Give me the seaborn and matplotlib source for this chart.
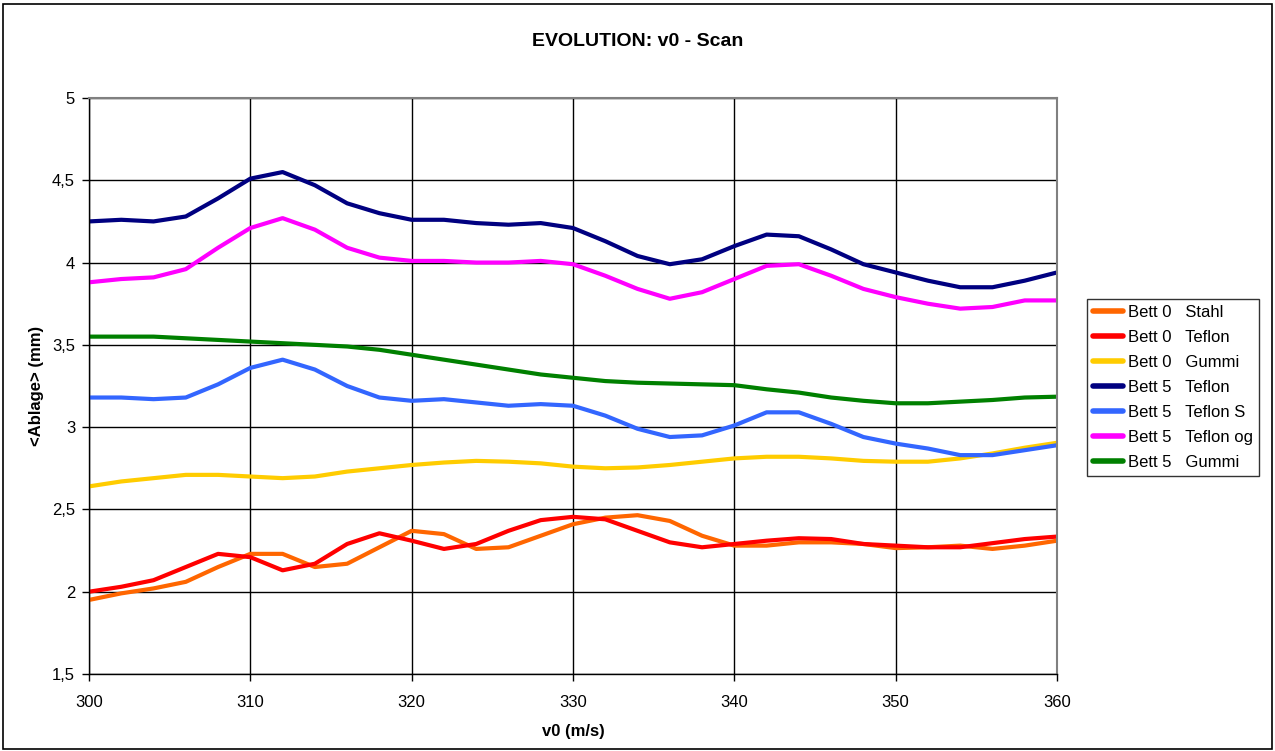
import pandas as pd
import matplotlib.pyplot as plt
import seaborn as sns
from matplotlib.patches import Rectangle

# v0 Werte (m/s)
v0 = [300, 302, 304, 306, 308, 310, 312, 314, 316, 318, 320, 322, 324, 326, 328, 330,
      332, 334, 336, 338, 340, 342, 344, 346, 348, 350, 352, 354, 356, 358, 360]

bett0_stahl = [1.95, 1.99, 2.02, 2.06, 2.15, 2.23, 2.23, 2.15, 2.17, 2.27, 2.37, 2.35, 2.26, 2.27, 2.34, 2.41,
               2.45, 2.465, 2.43, 2.34, 2.28, 2.28, 2.30, 2.30, 2.29, 2.265, 2.27, 2.28, 2.26, 2.28, 2.31]
bett0_teflon = [2.00, 2.03, 2.07, 2.15, 2.23, 2.21, 2.13, 2.17, 2.29, 2.355, 2.31, 2.26, 2.29, 2.37, 2.435, 2.455,
                2.44, 2.37, 2.30, 2.27, 2.29, 2.31, 2.325, 2.32, 2.29, 2.28, 2.27, 2.27, 2.295, 2.32, 2.335]
bett0_gummi = [2.64, 2.67, 2.69, 2.71, 2.71, 2.70, 2.69, 2.70, 2.73, 2.75, 2.77, 2.785, 2.795, 2.79, 2.78, 2.76,
               2.75, 2.755, 2.77, 2.79, 2.81, 2.82, 2.82, 2.81, 2.795, 2.79, 2.79, 2.81, 2.84, 2.875, 2.905]
bett5_teflon = [4.25, 4.26, 4.25, 4.28, 4.39, 4.51, 4.55, 4.47, 4.36, 4.30, 4.26, 4.26, 4.24, 4.23, 4.24, 4.21,
                4.13, 4.04, 3.99, 4.02, 4.10, 4.17, 4.16, 4.08, 3.99, 3.94, 3.89, 3.85, 3.85, 3.89, 3.94]
bett5_teflon_s = [3.18, 3.18, 3.17, 3.18, 3.26, 3.36, 3.41, 3.35, 3.25, 3.18, 3.16, 3.17, 3.15, 3.13, 3.14, 3.13,
                  3.07, 2.99, 2.94, 2.95, 3.01, 3.09, 3.09, 3.02, 2.94, 2.90, 2.87, 2.83, 2.83, 2.86, 2.89]
bett5_teflon_og = [3.88, 3.90, 3.91, 3.96, 4.09, 4.21, 4.27, 4.20, 4.09, 4.03, 4.01, 4.01, 4.00, 4.00, 4.01, 3.99,
                   3.92, 3.84, 3.78, 3.82, 3.90, 3.98, 3.99, 3.92, 3.84, 3.79, 3.75, 3.72, 3.73, 3.77, 3.77]
bett5_gummi = [3.55, 3.55, 3.55, 3.54, 3.53, 3.52, 3.51, 3.50, 3.49, 3.47, 3.44, 3.41, 3.38, 3.35, 3.32, 3.30,
               3.28, 3.27, 3.265, 3.26, 3.255, 3.23, 3.21, 3.18, 3.16, 3.145, 3.145, 3.155, 3.165, 3.18, 3.185]

serien = ["Bett 0   Stahl", "Bett 0   Teflon", "Bett 0   Gummi", "Bett 5   Teflon",
          "Bett 5   Teflon S", "Bett 5   Teflon og", "Bett 5   Gummi"]
werte = [bett0_stahl, bett0_teflon, bett0_gummi, bett5_teflon, bett5_teflon_s, bett5_teflon_og, bett5_gummi]
farben = ["#FF6600", "#FF0000", "#FFCC00", "#000080", "#3366FF", "#FF00FF", "#008000"]

y_ticks = [1.5, 2, 2.5, 3, 3.5, 4, 4.5, 5]
y_labels = ["1,5", "2", "2,5", "3", "3,5", "4", "4,5", "5"]
x_ticks = [300, 310, 320, 330, 340, 350, 360]

# Long-Format fuer seaborn
df = pd.concat([pd.DataFrame({"v0": v0, "Ablage": w, "Serie": s}) for s, w in zip(serien, werte)],
               ignore_index=True)

sns.set_theme(style="white")
plt.rcParams["font.family"] = ["Liberation Sans", "DejaVu Sans"]
plt.rcParams["text.color"] = "black"
plt.rcParams["axes.labelcolor"] = "black"
plt.rcParams["xtick.color"] = "black"
plt.rcParams["ytick.color"] = "black"

fig = plt.figure(figsize=(12.75, 7.51), dpi=100)
ax = fig.add_axes([89 / 1275, 1 - 674 / 751, 968 / 1275, 576 / 751])

sns.lineplot(data=df, x="v0", y="Ablage", hue="Serie", hue_order=serien,
             palette=dict(zip(serien, farben)), linewidth=3, sort=False, estimator=None,
             ax=ax, legend=False)

ax.set_xlim(300, 360)
ax.set_ylim(1.5, 5)
ax.set_xticks(x_ticks)
ax.set_xticklabels([str(x) for x in x_ticks], fontsize=12)
ax.set_yticks(y_ticks)
ax.set_yticklabels(y_labels, fontsize=12)
ax.grid(True, color="black", linewidth=1)
ax.set_axisbelow(True)
ax.tick_params(axis="both", direction="out", length=5, width=1, color="black",
               bottom=True, left=True)
ax.tick_params(axis="x", pad=10)
ax.tick_params(axis="y", pad=5)
for side in ["left", "bottom"]:
    ax.spines[side].set_color("black")
    ax.spines[side].set_linewidth(1)
for side in ["top", "right"]:
    ax.spines[side].set_color("#808080")
    ax.spines[side].set_linewidth(1.5)
ax.set_xlabel("v0 (m/s)", fontsize=12, fontweight="bold", labelpad=10)
ax.set_ylabel("<Ablage> (mm)", fontsize=12, fontweight="bold", labelpad=6)

fig.text(0.5, 1 - 41 / 751, "EVOLUTION: v0 - Scan", ha="center", va="center",
         fontsize=14, fontweight="bold")

handles = [plt.Line2D([], [], color=c, linewidth=4) for c in farben]
leg = fig.legend(handles, serien, loc="upper left", bbox_to_anchor=(1087 / 1275, 1 - 299 / 751),
                 fontsize=12, frameon=True, fancybox=False, edgecolor="black",
                 handlelength=1.8, handletextpad=0.3, labelspacing=0.6, borderpad=0.35,
                 borderaxespad=0)
leg.get_frame().set_linewidth(1)

fig.patches.append(Rectangle((0.002, 0.002), 0.996, 0.993, transform=fig.transFigure,
                             fill=False, edgecolor="black", linewidth=1.2))

plt.savefig("out.png", dpi=100)
plt.close()
